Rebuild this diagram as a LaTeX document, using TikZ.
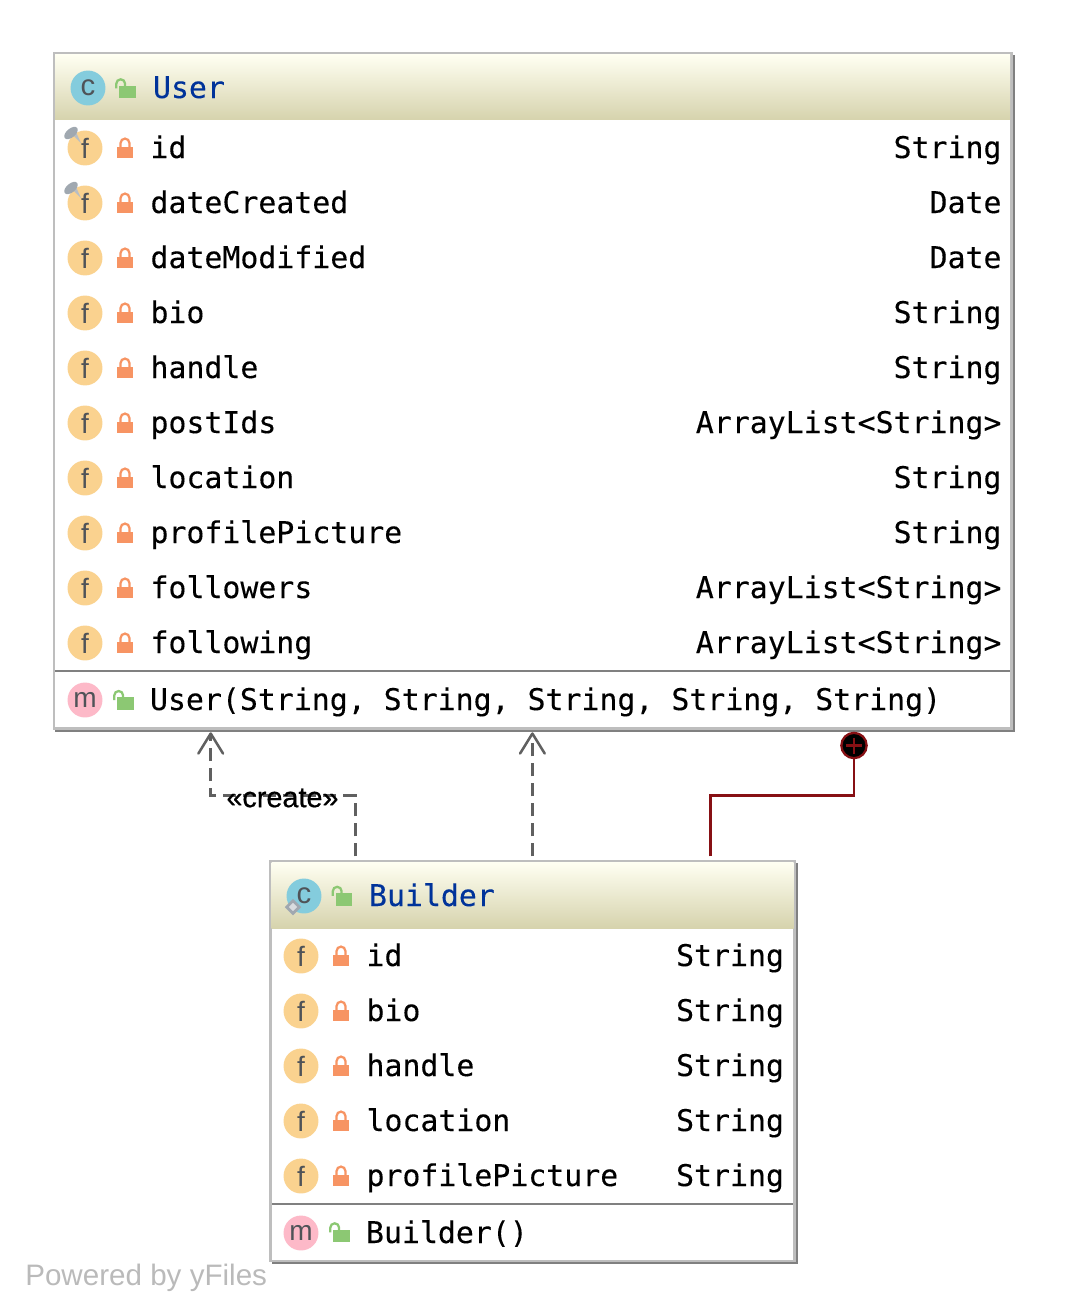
\documentclass[tikz,border=0pt]{standalone}
\usepackage{fontspec}
\usetikzlibrary{arrows.meta,calc}
\setmainfont{Liberation Sans}
\newfontfamily\codefont[FakeBold=0.2]{DejaVu Sans Mono}
\newfontfamily\stereofont[FakeBold=0.6]{Liberation Sans}
\definecolor{frameL}{HTML}{BEBEBE}
\definecolor{frameD}{HTML}{808080}
\definecolor{headT}{HTML}{FFFFF2}
\definecolor{headB}{HTML}{D6D3AD}
\definecolor{fieldC}{HTML}{FAD28F}
\definecolor{classC}{HTML}{84CCDD}
\definecolor{methC}{HTML}{FDB9C8}
\definecolor{lockO}{HTML}{F79463}
\definecolor{lockG}{HTML}{8CC873}
\definecolor{iconT}{HTML}{4F5358}
\definecolor{pinC}{HTML}{A0A8B0}
\definecolor{depC}{HTML}{606060}
\definecolor{redC}{HTML}{871014}
\definecolor{titleC}{HTML}{00339A}
\tikzset{
  x=0.75pt,y=-0.75pt,
  boxframe/.style={draw=frameL,line width=1.8pt,fill=white,inner sep=0,outer sep=0,rectangle},
  boxshadow/.style={draw=none,fill=frameD,inner sep=0,rectangle},
  headband/.style={draw=none,inner sep=0,rectangle,top color=headT,bottom color=headB,shading angle=0},
  rule/.style={draw=frameD,line width=1.5pt},
  code/.style={inner sep=0,outer sep=0,font=\codefont\fontsize{22.4pt}{24pt}\selectfont,text=black},
  rowname/.style={code,anchor=base west},
  rowtype/.style={code,anchor=base east},
  title/.style={code,anchor=base west,text=titleC},
  badge/.style={circle,draw=none,inner sep=0,minimum size=26.2pt,text=iconT,font=\fontsize{21pt}{24pt}\selectfont},
  fieldbadge/.style={badge,fill=fieldC,text height=15pt,text depth=0pt},
  classbadge/.style={badge,fill=classC,font=\fontsize{22pt}{24pt}\selectfont,text height=11pt,text depth=0pt},
  methbadge/.style={badge,fill=methC,text height=11.5pt,text depth=0pt},
  dep/.style={draw=depC,line width=1.9pt,dash pattern=on 10pt off 5pt,
     -{Straight Barb[length=15pt,width=18.5pt,line width=1.9pt,round]}},
  owner/.style={draw=redC,line width=1.8pt},
  stereo/.style={inner sep=0,font=\stereofont\fontsize{21.6pt}{24pt}\selectfont,text=black},
  watermark/.style={inner sep=0,anchor=base west,font=\fontsize{22.2pt}{26pt}\selectfont,text=black!27},
}
% closed lock: #1 x, #2 y (centre)
\newcommand{\lockclosed}[2]{%
  \fill[lockO] (#1-7.7,#2-1.5) rectangle (#1+7.7,#2+10);
  \draw[lockO,line width=1.7pt] (#1-4.4,#2) -- (#1-4.4,#2-5) arc[start angle=180,end angle=360,radius=4.4] -- (#1+4.4,#2);
}
% open lock
\newcommand{\lockopen}[2]{%
  \fill[lockG] (#1-5.7,#2-2.5) rectangle (#1+10.5,#2+10);
  \draw[lockG,line width=1.7pt] (#1-8.7,#2+0.3) -- (#1-8.7,#2-4.3) arc[start angle=180,end angle=360,radius=4.4] -- (#1+0.1,#2-2);
}
% field row: #1 name, #2 badge x, #3 row centre y, #4 field, #5 type, #6 right x
\newcommand{\fieldrow}[6]{%
  \node[fieldbadge] (#1b) at (#2,#3) {f};
  \lockclosed{#2+40}{#3}
  \node[rowname] (#1n) at (#2+65.5,#3+10) {#4};
  \node[rowtype] (#1t) at (#6,#3+10) {#5};
}
% pin on a field badge: #1,#2 = centre of the pin head
\newcommand{\pinmark}[2]{%
  \fill[pinC!75!white] (#1+1,#2+1) -- (#1+5,#2-1) -- (#1+10,#2+10) -- cycle;
  \fill[pinC,rotate around={40:(#1,#2)}] (#1,#2) ellipse[x radius=8,y radius=4.4];
}
\begin{document}
\begin{tikzpicture}
\useasboundingbox (0,0) rectangle (1065,1315);

% ---------- User ----------
\node[boxshadow,minimum width=720pt,minimum height=507.75pt] (usershadow) at (535,393.5) {};
\node[boxframe,minimum width=718pt,minimum height=506.4pt] (user) at (532.7,390.9) {};
\node[headband,minimum width=716.1pt,minimum height=49.1pt] (userhead) at (532.6,87.25) {};
\node[classbadge] (userc) at (88,88) {c};
\lockopen{125}{88}
\node[title] (usertitle) at (153,98) {User};

\fieldrow{uid}{85}{148}{id}{String}{1001.5}
\fieldrow{ucre}{85}{203}{dateCreated}{Date}{1001.5}
\fieldrow{umod}{85}{258}{dateModified}{Date}{1001.5}
\fieldrow{ubio}{85}{313}{bio}{String}{1001.5}
\fieldrow{uhan}{85}{368}{handle}{String}{1001.5}
\fieldrow{upos}{85}{423}{postIds}{ArrayList<String>}{1001.5}
\fieldrow{uloc}{85}{478}{location}{String}{1001.5}
\fieldrow{upro}{85}{533}{profilePicture}{String}{1001.5}
\fieldrow{ufol}{85}{588}{followers}{ArrayList<String>}{1001.5}
\fieldrow{ufow}{85}{643}{following}{ArrayList<String>}{1001.5}
\pinmark{71}{133}
\pinmark{71}{188}

\draw[rule] (55,671) -- (1010,671);
\node[methbadge] (userm) at (85,700) {m};
\lockopen{123}{699.7}
\node[rowname] (userctor) at (150,710) {User(String, String, String, String, String)};

% ---------- Builder ----------
\node[boxshadow,minimum width=394.5pt,minimum height=300.75pt] (buildershadow) at (535,1063.5) {};
\node[boxframe,minimum width=393pt,minimum height=300pt] (builder) at (532.5,1061) {};
\node[headband,minimum width=391.5pt,minimum height=49.5pt] (builderhead) at (532.5,895) {};
\node[classbadge] (builderc) at (304,896) {c};
\begin{scope}[shift={(293,907)},rotate=45]
  \draw[pinC,line width=2pt,fill=white!60!pinC] (-4.5,-4.5) rectangle (4.5,4.5);
\end{scope}
\lockopen{341.5}{895.5}
\node[title] (buildertitle) at (369,906) {Builder};

\fieldrow{bid}{301}{956}{id}{String}{784}
\fieldrow{bbio}{301}{1011}{bio}{String}{784}
\fieldrow{bhan}{301}{1066}{handle}{String}{784}
\fieldrow{bloc}{301}{1121}{location}{String}{784}
\fieldrow{bpro}{301}{1176}{profilePicture}{String}{784}

\draw[rule] (272,1204) -- (793,1204);
\node[methbadge] (builderm) at (301,1233) {m};
\lockopen{339}{1232}
\node[rowname] (builderctor) at (366,1243) {Builder()};

% ---------- connectors ----------
\coordinate (xcreatefrom) at (355.4,0);
\coordinate (xcreateto) at (210.7,0);
\coordinate (xnest) at (532.4,0);
\coordinate (xownerfrom) at (710.4,0);
\coordinate (ybend) at (0,795.5);

\draw[dep,shorten <=3.5pt] (xcreatefrom |- builder.north) -- (xcreatefrom |- ybend) -- (xcreateto |- ybend) -- (xcreateto |- usershadow.south);
\draw[dep,shorten <=3.5pt] (xnest |- builder.north) -- (xnest |- usershadow.south);
\node[stereo] (createlabel) at (282.5,798) {«create»};

\node[circle,fill=black,draw=redC,line width=1.7pt,inner sep=0,minimum size=19pt] (ownerdot) at (854,745.5) {};
\draw[owner] (ownerdot.center) ++(-8,0) -- ++(16,0);
\draw[owner] (ownerdot.center) ++(0,-8) -- ++(0,16);
\draw[owner,shorten <=3.5pt] (xownerfrom |- builder.north) -- (xownerfrom |- ybend) -- (ownerdot.south |- ybend) -- (ownerdot.south);

\node[watermark] (powered) at (25,1285) {Powered by yFiles};
\end{tikzpicture}
\end{document}
